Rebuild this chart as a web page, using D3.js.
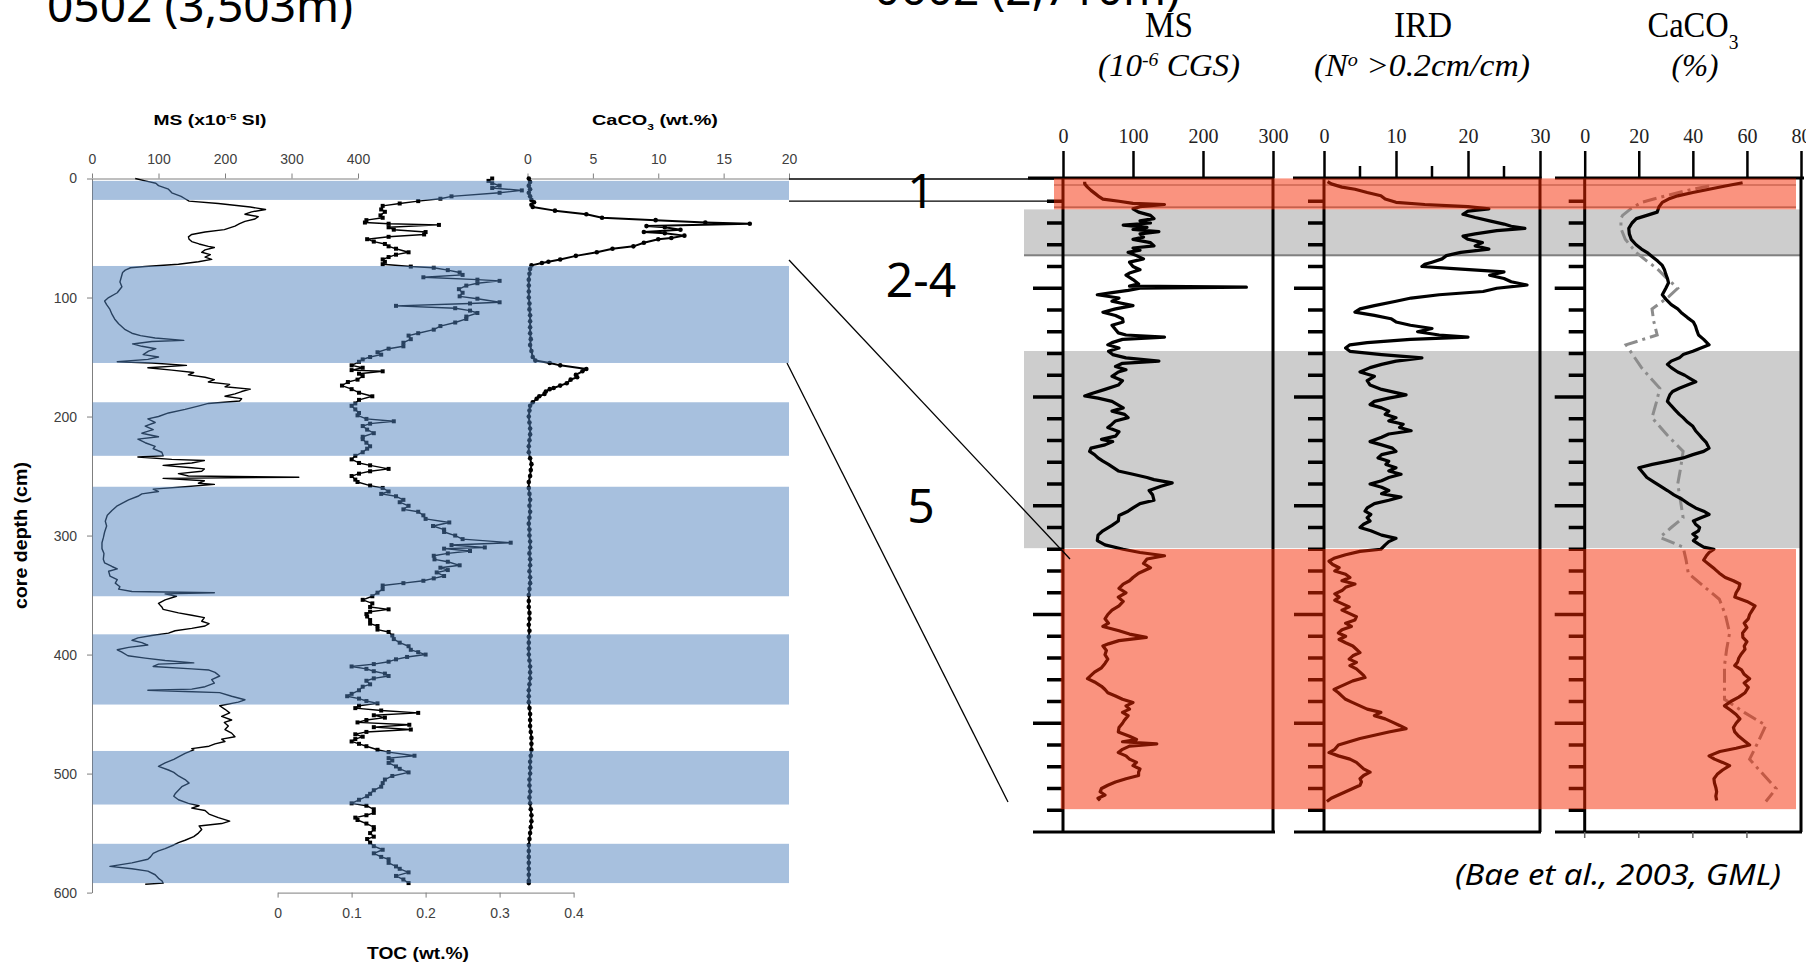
<!DOCTYPE html>
<html><head><meta charset="utf-8">
<script src="https://cdn.jsdelivr.net/npm/d3@7"></script>
<style>body{margin:0;background:#fff}svg{display:block}</style>
</head><body>
<script>
// ---------------- DATA: core 0502 (left) ----------------
const msTicks0502 = [0,100,200,300,400];
const caTicks0502 = [0,5,10,15,20];
const tocTicks0502 = [0,0.1,0.2,0.3,0.4];
const depthTicks0502 = [0,100,200,300,400,500,600];
// glacial (blue) intervals, cm
const blueBands0502 = [[2,18],[73.5,155],[188,233],[259,351],[383,442],[481,526],[559,592]];
// MS (x10^-5 SI): [depth cm, value]
const ms0502 = [[0,65],[2,80],[4,96],[6,100],[9,115],[12,120],[15,134],[17,140],[19,146],[21,190],[24,238],[26,261],[28,240],[30,230],[32,250],[34,245],[36,230],[38,222],[40,215],[43,199],[45,170],[47,150],[49,145],[51,146],[53,150],[55,161],[57,175],[58,184],[60,170],[62,165],[64,178],[66,170],[68,180],[70,160],[72,130],[74,80],[75,58],[77,50],[79,46],[83,44],[87,42],[91,45],[96,38],[100,25],[103,19],[106,22],[110,27],[114,30],[118,34],[122,40],[127,50],[130,60],[132,73],[134,95],[136,138],[137,90],[139,61],[141,75],[143,96],[145,85],[148,77],[150,100],[152,84],[154,38],[155,90],[157,142],[159,84],[161,120],[163,153],[165,145],[167,170],[169,184],[171,175],[173,207],[175,200],[177,238],[179,225],[181,215],[183,200],[185,225],[187,222],[189,175],[191,161],[194,140],[197,115],[200,100],[202,84],[205,95],[208,80],[211,92],[214,75],[217,100],[219,69],[222,80],[225,95],[227,92],[230,105],[233,107],[234,69],[236,120],[237,169],[239,150],[241,107],[243,150],[244,169],[246,165],[248,130],[250,145],[251,311],[252,107],[254,169],[256,160],[257,184],[259,140],[261,92],[263,100],[265,75],[267,69],[270,55],[273,45],[275,38],[279,30],[283,23],[288,20],[292,22],[297,19],[302,17],[306,15],[311,15],[315,18],[320,17],[323,19],[326,30],[328,38],[330,25],[334,27],[337,38],[340,35],[343,42],[345,40],[347,60],[348,184],[349,110],[351,127],[354,110],[357,100],[360,105],[362,107],[365,130],[367,150],[369,169],[372,165],[374,176],[376,170],[378,150],[380,125],[382,115],[384,90],[386,69],[388,60],[390,75],[392,84],[394,55],[396,38],[398,45],[401,54],[403,80],[405,110],[407,153],[408,100],[410,92],[412,150],[413,176],[415,185],[418,192],[421,180],[424,184],[427,170],[429,150],[430,84],[431,140],[432,192],[435,210],[438,230],[440,220],[443,192],[446,200],[449,207],[452,195],[455,210],[457,199],[460,205],[463,200],[466,210],[469,215],[471,195],[473,200],[475,185],[477,176],[479,150],[480,153],[483,140],[486,130],[488,123],[491,110],[494,100],[497,115],[499,123],[502,130],[505,140],[508,146],[511,135],[514,130],[517,125],[519,123],[522,130],[525,145],[527,161],[529,150],[531,170],[534,176],[537,190],[540,207],[542,195],[544,161],[547,165],[550,160],[553,153],[556,140],[558,130],[560,123],[563,110],[565,100],[567,92],[570,88],[572,84],[575,60],[578,27],[580,60],[582,84],[585,95],[588,100],[590,105],[592,107],[593,80]];
// TOC (wt.%)
const toc0502 = [[0,0.29],[2,0.285],[4,0.29],[6,0.30],[8,0.29],[10,0.33],[12,0.30],[15,0.235],[17,0.22],[19,0.19],[21,0.165],[23,0.142],[26,0.14],[28,0.145],[31,0.139],[33,0.142],[35,0.12],[37,0.118],[38,0.15],[39,0.218],[41,0.15],[43,0.157],[45,0.2],[47,0.198],[49,0.15],[51,0.121],[53,0.13],[55,0.145],[57,0.15],[59,0.16],[62,0.177],[64,0.16],[66,0.15],[68,0.142],[70,0.145],[72,0.142],[74,0.18],[75,0.211],[77,0.23],[79,0.246],[81,0.25],[83,0.197],[85,0.27],[86,0.30],[88,0.27],[90,0.255],[93,0.245],[96,0.25],[99,0.246],[101,0.27],[104,0.30],[105,0.26],[107,0.16],[109,0.24],[111,0.26],[113,0.27],[116,0.255],[118,0.255],[121,0.24],[124,0.22],[127,0.211],[130,0.19],[132,0.177],[135,0.18],[138,0.17],[141,0.17],[143,0.15],[146,0.135],[148,0.14],[150,0.125],[152,0.115],[154,0.11],[157,0.10],[159,0.115],[161,0.10],[162,0.142],[164,0.11],[166,0.115],[169,0.108],[171,0.095],[174,0.087],[177,0.10],[180,0.11],[183,0.128],[186,0.11],[189,0.105],[191,0.10],[194,0.105],[197,0.11],[199,0.108],[202,0.12],[204,0.157],[206,0.125],[208,0.115],[211,0.121],[214,0.13],[217,0.115],[219,0.115],[222,0.12],[225,0.125],[227,0.121],[230,0.115],[233,0.105],[236,0.10],[239,0.11],[241,0.125],[244,0.15],[246,0.125],[248,0.11],[250,0.10],[253,0.105],[255,0.108],[258,0.125],[260,0.142],[263,0.15],[265,0.14],[267,0.16],[270,0.17],[272,0.165],[275,0.177],[278,0.17],[280,0.19],[283,0.197],[286,0.2],[289,0.232],[292,0.21],[295,0.225],[297,0.225],[300,0.24],[303,0.25],[306,0.315],[308,0.235],[310,0.28],[311,0.225],[313,0.26],[315,0.23],[317,0.211],[320,0.212],[322,0.23],[325,0.246],[327,0.22],[329,0.23],[331,0.215],[334,0.225],[336,0.211],[338,0.197],[340,0.17],[342,0.142],[345,0.142],[348,0.135],[351,0.128],[354,0.115],[357,0.128],[360,0.125],[362,0.15],[364,0.125],[366,0.12],[368,0.121],[371,0.125],[374,0.125],[376,0.135],[379,0.135],[381,0.15],[384,0.155],[387,0.157],[390,0.165],[393,0.177],[396,0.18],[398,0.19],[400,0.20],[402,0.175],[404,0.16],[406,0.15],[408,0.13],[410,0.10],[412,0.12],[414,0.13],[416,0.145],[418,0.15],[420,0.13],[422,0.12],[425,0.125],[427,0.115],[430,0.11],[433,0.1],[435,0.094],[437,0.11],[439,0.12],[441,0.135],[443,0.11],[445,0.105],[447,0.14],[449,0.19],[451,0.13],[453,0.145],[455,0.12],[457,0.108],[459,0.178],[461,0.13],[463,0.18],[465,0.12],[467,0.105],[469,0.115],[471,0.105],[473,0.10],[475,0.11],[477,0.12],[480,0.135],[482,0.15],[485,0.185],[487,0.15],[489,0.155],[491,0.15],[494,0.16],[496,0.165],[499,0.177],[502,0.155],[505,0.145],[508,0.142],[511,0.14],[514,0.13],[517,0.125],[519,0.121],[522,0.11],[525,0.10],[527,0.12],[530,0.13],[533,0.13],[535,0.12],[537,0.105],[539,0.108],[542,0.12],[545,0.13],[547,0.13],[550,0.125],[553,0.13],[555,0.121],[558,0.125],[561,0.13],[564,0.142],[567,0.13],[570,0.14],[572,0.15],[575,0.15],[578,0.16],[580,0.165],[583,0.177],[586,0.16],[589,0.17],[592,0.177]];
// CaCO3 (wt.%)
const caco3_0502 = [[0,0.1],[3,0.2],[6,0.1],[9,0.2],[12,0.1],[15,0.2],[18,0.3],[20,0.5],[22,0.3],[24,0.4],[27,2.1],[30,4.5],[33,5.7],[35,9.8],[37,13.6],[38,17],[40,9.1],[41,10.5],[43,11.7],[45,8.9],[46,10.5],[48,12],[50,11],[51,10],[54,8.9],[57,8.1],[59,6.5],[62,5.3],[65,3.7],[68,2.5],[70,1.6],[71,1.1],[73,0.3],[76,0.2],[80,0.15],[85,0.1],[90,0.1],[95,0.1],[100,0.1],[105,0.15],[110,0.15],[115,0.2],[120,0.2],[125,0.2],[130,0.2],[135,0.25],[140,0.2],[145,0.3],[150,0.4],[153,0.6],[155,1.7],[157,2.5],[160,4.5],[162,4.2],[165,3.7],[167,3.8],[169,3.3],[172,3],[174,2.5],[176,2],[177,1.7],[179,1.4],[181,1.3],[183,0.9],[185,0.7],[188,0.4],[191,0.2],[195,0.15],[200,0.1],[205,0.15],[210,0.2],[215,0.2],[220,0.15],[225,0.1],[230,0.1],[235,0.2],[240,0.3],[245,0.25],[250,0.2],[255,0.1],[260,0.1],[265,0.15],[270,0.2],[275,0.15],[280,0.2],[285,0.15],[290,0.1],[295,0.15],[300,0.15],[305,0.2],[310,0.2],[315,0.15],[320,0.2],[325,0.2],[330,0.15],[335,0.2],[340,0.2],[345,0.15],[350,0.1],[355,0.1],[360,0.1],[365,0.15],[370,0.15],[375,0.1],[380,0.15],[385,0.1],[390,0.1],[395,0.1],[400,0.1],[405,0.15],[410,0.2],[415,0.2],[420,0.2],[425,0.15],[430,0.1],[435,0.1],[440,0.1],[445,0.15],[450,0.2],[455,0.2],[460,0.2],[465,0.25],[470,0.3],[475,0.3],[480,0.3],[485,0.25],[490,0.2],[495,0.2],[500,0.2],[505,0.15],[510,0.15],[515,0.2],[520,0.15],[525,0.2],[530,0.25],[535,0.3],[540,0.3],[545,0.25],[550,0.2],[555,0.15],[560,0.1],[565,0.1],[570,0.1],[575,0.1],[580,0.1],[585,0.1],[590,0.1],[592,0.1]];

// ---------------- DATA: core 0602 (right, Bae et al. 2003) ----------------
const msTicks0602 = [0,100,200,300];
const irdTicks0602 = [0,10,20,30];
const irdMinor0602 = [5,15,25];
const caTicks0602 = [0,20,40,60,80];
const grayBands0602 = [[27.5,70.5],[157.7,339]];
const redBands0602 = [[-1,27.5],[339.8,579]];
const ms0602 = [[2,31],[4,31],[7,35],[10,40],[13,46],[16,52],[18,57],[20,80],[22,100],[23,145],[25,110],[27,100],[30,108],[33,125],[36,130],[38,110],[40,125],[42,86],[44,120],[46,100],[48,137],[50,110],[53,115],[55,100],[58,125],[61,130],[63,100],[65,110],[67,93],[70,105],[73,115],[76,95],[80,100],[83,110],[86,95],[88,90],[92,100],[96,108],[98,95],[99,262],[100,110],[102,93],[104,70],[106,49],[109,80],[112,70],[116,100],[119,75],[122,57],[125,75],[128,85],[131,86],[134,70],[138,75],[141,79],[143,90],[145,145],[147,85],[150,70],[152,64],[155,80],[158,65],[161,71],[164,90],[167,137],[169,85],[172,75],[175,90],[177,79],[181,70],[185,85],[189,79],[193,60],[197,40],[199,31],[201,50],[204,70],[207,78],[210,86],[213,70],[216,88],[219,93],[222,75],[225,70],[228,64],[232,80],[236,75],[239,55],[241,71],[244,60],[247,40],[250,38],[253,45],[256,50],[259,57],[262,65],[265,72],[268,79],[271,100],[274,120],[276,130],[279,156],[282,140],[286,123],[290,128],[295,130],[298,110],[302,100],[305,93],[309,80],[314,79],[318,70],[323,57],[327,50],[332,49],[336,60],[340,86],[343,110],[346,145],[349,120],[353,115],[357,125],[362,108],[366,100],[369,95],[372,86],[376,80],[380,90],[384,79],[388,86],[392,80],[396,70],[400,64],[404,60],[408,65],[411,57],[415,80],[418,95],[421,119],[424,80],[427,65],[429,57],[433,62],[437,60],[441,64],[445,60],[449,55],[453,45],[456,40],[459,35],[462,45],[466,55],[469,60],[472,64],[475,75],[478,85],[481,100],[484,90],[487,95],[490,85],[493,93],[497,88],[500,85],[504,80],[508,79],[512,95],[515,105],[517,85],[519,134],[521,95],[524,85],[527,79],[530,90],[533,95],[536,105],[539,100],[542,110],[545,108],[548,108],[551,90],[554,75],[557,64],[560,55],[563,53],[566,60],[569,50],[571,53]];
const ird0602 = [[2,0.5],[4,1],[7,2.5],[9,4.3],[12,6],[15,7.9],[18,8.5],[21,10],[23,14],[25,20],[27,22.9],[29,20],[32,19.3],[35,21],[38,23],[41,25],[43,26],[45,27.9],[47,24],[50,21],[52,19.3],[55,20],[58,22],[61,21],[64,22.9],[67,19],[70,17],[73,16.4],[76,15],[78,14],[80,13.6],[82,18],[85,25],[88,23],[91,25],[94,26],[97,28.2],[100,24],[103,22.1],[106,16],[109,12.1],[112,10],[116,7],[119,5],[122,4.3],[125,7],[128,9.3],[131,10],[134,12],[137,15],[140,13],[143,16],[145,20],[147,12],[150,6],[152,3.6],[155,3],[158,3.6],[161,8],[164,13.6],[167,10],[170,8],[173,6.4],[177,5],[181,7],[185,6],[189,6.4],[193,8],[196,10],[198,11.4],[201,9],[204,7],[207,6.4],[210,8],[213,9],[216,8.5],[219,10],[222,9],[225,11],[228,10.5],[231,12.1],[234,9],[237,8],[241,6.4],[244,8],[247,9.5],[250,10],[253,8],[256,7.5],[259,9],[262,8.6],[265,10],[268,9],[271,10.7],[274,9],[277,8],[280,6.4],[283,8],[286,9],[289,8],[292,10.7],[295,9],[298,7],[302,6],[305,5.7],[308,6.5],[311,6],[314,6.4],[317,5.5],[320,5],[323,6.5],[327,8],[330,10],[333,9],[336,8.5],[340,7.9],[342,5],[345,3],[348,1.5],[351,0.7],[354,1.2],[357,2.1],[360,1.5],[363,3],[366,3.6],[369,2.5],[372,4.3],[375,3],[378,2.5],[381,1.5],[384,2.1],[387,1.5],[390,2.5],[393,3.5],[396,2.5],[399,3.5],[402,4.5],[405,4.3],[408,3],[411,3.8],[414,2.5],[417,2],[420,3],[423,2.1],[426,3],[429,4],[432,4.5],[435,5],[438,4],[441,3.5],[444,4.5],[447,3.6],[450,4.5],[453,5],[456,5.5],[458,5.7],[461,4],[464,3],[467,2],[469,1.4],[472,2],[475,2.5],[478,3],[481,4],[484,5],[487,6],[490,7.9],[493,7],[496,8.5],[499,9.5],[502,10.5],[505,11.4],[508,9],[511,7],[514,5],[517,3.5],[520,2],[524,1.5],[527,0.7],[530,2],[533,3.6],[536,4.5],[539,5],[542,5.5],[545,6.4],[548,5.5],[551,5],[554,5.2],[557,5],[560,4],[563,3],[566,2],[569,1],[572,0.4]];
const caco3_0602 = [[3,58.4],[6,52],[9,46],[12,40],[15,34.4],[18,31],[21,28.7],[25,27.5],[30,26.8],[33,23],[36,19.1],[40,17.5],[45,16.3],[50,16.5],[55,17.2],[60,19],[64,21],[67,23],[71,25],[75,27],[79,28.7],[83,29.5],[87,30],[91,30.6],[95,31],[100,30],[106,28.7],[110,30],[115,32],[119,34.4],[123,36],[127,38],[131,40.2],[135,41],[139,41.5],[143,42.1],[147,44],[152,46],[155,43],[158,40],[161,36.4],[164,35],[167,32],[170,30.6],[173,32],[177,34.4],[180,37],[183,39],[186,41.1],[189,38],[192,35],[195,32.5],[198,31.5],[201,31],[204,30.6],[208,32],[212,33.5],[216,35],[219,36.4],[223,38],[227,40],[231,41],[234,42.1],[238,43.5],[242,45],[247,46],[250,44],[253,40],[256,36.4],[259,31],[262,25],[265,20],[268,21],[271,22],[274,23],[278,25.5],[282,28],[286,30.6],[290,33],[294,36],[298,38.3],[302,41],[305,44],[308,46],[311,43],[314,40.2],[317,41],[320,42.5],[323,42.1],[326,40],[329,41.5],[332,40.2],[335,42],[338,44],[340,47.8],[343,46],[346,45],[350,44],[354,46],[358,48],[362,49.8],[366,52],[369,55],[372,57.4],[376,57],[380,56],[384,55.5],[388,60],[392,63],[396,62],[400,61],[404,60.5],[408,59],[412,60],[417,58.4],[421,58.5],[425,60],[429,59],[432,59.3],[436,58],[440,57],[444,56.5],[447,55.5],[451,58],[455,59],[459,61],[463,59],[467,60.5],[472,59.3],[476,57],[480,54],[484,51.7],[488,54],[492,56],[496,57.4],[500,56],[504,55],[508,55.5],[512,57],[516,59],[520,61],[523,56],[526,50],[530,46],[533,48],[536,51],[539,53.6],[543,51],[547,49],[551,47.8],[555,48],[559,48.5],[563,48.8],[567,48.5],[571,48.8]];
const caco3b_0602 = [[6,46],[10,38],[15,30],[21,21],[27,17],[33,14],[36,13.4],[45,13.4],[55,15],[67,19],[75,23],[82,26.8],[90,30],[100,34.4],[108,31],[119,24.9],[130,25.5],[143,26.8],[152,15.3],[162,18],[173,21],[183,24.5],[192,27.8],[205,26.5],[219,24.9],[235,30.5],[250,36.4],[265,35.5],[280,34.4],[295,35.4],[311,36.4],[320,32],[329,27.8],[338,36.4],[350,37.5],[362,38.3],[374,44],[386,49.8],[400,52],[417,53.6],[432,52.5],[447,51.7],[462,51.7],[478,51.7],[490,59],[502,67],[518,64],[533,61],[547,66],[560,70.8],[572,67]];
const intervalLabels = ["1","2-4","5"];

// ---------------- DRAW ----------------
const W = 1806, H = 966;
const svg = d3.select("body").append("svg").attr("width", W).attr("height", H);
svg.append("rect").attr("width", W).attr("height", H).attr("fill", "#fff");

// Left scales
const yL = d3.scaleLinear().domain([0,600]).range([178.5,892.6]);
const xMS = d3.scaleLinear().domain([0,400]).range([92,358]);
const xTOC = d3.scaleLinear().domain([0,0.4]).range([277.6,573.6]);
const xCa = d3.scaleLinear().domain([0,20]).range([527.5,789]);

const SANS = "'Liberation Sans', Arial, sans-serif";
const SERIF = "'Liberation Serif', 'Times New Roman', serif";
const NOTO = "'Noto Sans', 'Open Sans', sans-serif";

function styleAxis(g, col, size) {
  g.selectAll("path.domain").attr("stroke", col).attr("stroke-width", 1);
  g.selectAll(".tick line").attr("stroke", col).attr("stroke-width", 1);
  g.selectAll(".tick text").attr("fill", "#404040").attr("font-family", SANS).attr("font-size", size);
}
const plain = d => String(+d.toFixed(2));
const L = svg.append("g");
// axes
const gDepth = L.append("g").attr("transform", `translate(${xMS(0)},0)`)
  .call(d3.axisLeft(yL).tickValues(depthTicks0502).tickSize(5).tickSizeOuter(0).tickPadding(10).tickFormat(plain));
styleAxis(gDepth, "#7f7f7f", 14);
const gMS = L.append("g").attr("transform", `translate(0,${yL(0)})`)
  .call(d3.axisTop(xMS).tickValues(msTicks0502).tickSize(5).tickSizeOuter(0).tickPadding(10).tickFormat(plain));
styleAxis(gMS, "#7f7f7f", 14);
const gCa = L.append("g").attr("transform", `translate(0,${yL(0)})`)
  .call(d3.axisTop(xCa).tickValues(caTicks0502).tickSize(5).tickSizeOuter(0).tickPadding(10).tickFormat(plain));
styleAxis(gCa, "#7f7f7f", 14);
const gToc = L.append("g").attr("transform", `translate(0,${yL(600)})`)
  .call(d3.axisBottom(xTOC).tickValues(tocTicks0502).tickSize(5).tickSizeOuter(0).tickPadding(10).tickFormat(plain));
styleAxis(gToc, "#7f7f7f", 14);

// curves
const lineL = (xs) => d3.line().x(d => xs(d[1])).y(d => yL(d[0]));
L.append("path").datum(ms0502).attr("d", lineL(xMS)).attr("fill","none").attr("stroke","#000").attr("stroke-width",1.4).attr("stroke-linejoin","round");
L.append("path").datum(toc0502).attr("d", lineL(xTOC)).attr("fill","none").attr("stroke","#000").attr("stroke-width",1.4).attr("stroke-linejoin","round");
L.append("g").selectAll("rect").data(toc0502).join("rect")
  .attr("x", d => xTOC(d[1]) - 2).attr("y", d => yL(d[0]) - 2).attr("width", 4).attr("height", 4).attr("fill", "#000");
L.append("path").datum(caco3_0502).attr("d", lineL(xCa)).attr("fill","none").attr("stroke","#000").attr("stroke-width",2).attr("stroke-linejoin","round");
L.append("g").selectAll("circle").data(caco3_0502).join("circle")
  .attr("cx", d => xCa(d[1])).attr("cy", d => yL(d[0])).attr("r", 2.3).attr("fill", "#000");

// translucent blue bands (over the curves)
L.append("g").selectAll("rect").data(blueBands0502).join("rect")
  .attr("x", xMS(0) + 0.5).attr("width", xCa(20) - xMS(0) - 0.5)
  .attr("y", d => yL(d[0])).attr("height", d => yL(d[1]) - yL(d[0]))
  .attr("fill", "#4F81BD").attr("fill-opacity", 0.5);

// titles helper
function title(g, x, y, parts, size, len, opts = {}) {
  const t = g.append("text").attr("x", x).attr("y", y).attr("text-anchor", opts.anchor || "middle")
    .attr("font-family", opts.family || SANS).attr("font-size", size)
    .attr("font-weight", opts.weight || "normal").attr("font-style", opts.style || "normal").attr("fill", "#000");
  if (len) t.attr("textLength", len).attr("lengthAdjust", "spacingAndGlyphs");
  parts.forEach(p => {
    const s = t.append("tspan").text(p.t);
    if (p.sup) s.attr("baseline-shift", "super").attr("font-size", size * 0.6);
    if (p.sub) s.attr("baseline-shift", "sub").attr("font-size", size * 0.6);
  });
  return t;
}
title(L, 210, 125, [{t:"MS (x10"},{t:"-5",sup:1},{t:" SI)"}], 15, 113, {weight:"bold"});
title(L, 655, 125, [{t:"CaCO"},{t:"3",sub:1},{t:" (wt.%)"}], 15, 126, {weight:"bold"});
title(L, 418, 959, [{t:"TOC (wt.%)"}], 16, 102, {weight:"bold"});
L.append("text").attr("transform", `translate(27,${yL(300)}) rotate(-90)`).attr("text-anchor","middle")
  .attr("font-family", SANS).attr("font-weight","bold").attr("font-size", 18)
  .attr("textLength", 147).attr("lengthAdjust","spacingAndGlyphs").text("core depth (cm)");

// big core titles
svg.append("text").attr("x", 47).attr("y", 22).attr("font-family", NOTO).attr("font-size", 46)
  .attr("textLength", 306).attr("lengthAdjust","spacingAndGlyphs").text("0502 (3,503m)");
svg.append("text").attr("x", 874).attr("y", 5).attr("font-family", NOTO).attr("font-size", 46)
  .attr("textLength", 306).attr("lengthAdjust","spacingAndGlyphs").text("0602 (2,710m)");

// ---------------- RIGHT ----------------
const yR = d3.scaleLinear().domain([0,600]).range([179.5,832]);
const xMSr = d3.scaleLinear().domain([0,300]).range([1063,1273]);
const xIRD = d3.scaleLinear().domain([0,30]).range([1324,1540]);
const xCaR = d3.scaleLinear().domain([0,80]).range([1584.7,1801]);
const R = svg.append("g");
const rightLeft = 1024, rightRight = 1802;

// gray bands (behind)
R.append("g").selectAll("rect").data(grayBands0602).join("rect")
  .attr("x", rightLeft).attr("width", rightRight - rightLeft)
  .attr("y", d => yR(d[0])).attr("height", d => yR(d[1]) - yR(d[0])).attr("fill", "#cdcdcd");
R.append("line").attr("x1", rightLeft).attr("x2", rightRight)
  .attr("y1", yR(grayBands0602[0][1]) - 1).attr("y2", yR(grayBands0602[0][1]) - 1)
  .attr("stroke", "#808080").attr("stroke-width", 2);
// continuation of interval-1 markers across panel
[yL(0) + 0.5, yL(19)].forEach(y => {
  R.append("line").attr("x1", 1054).attr("x2", 1796).attr("y1", y + 6).attr("y2", y + 6)
    .attr("stroke", "#777").attr("stroke-width", 1.2);
});

const panels = [
  {x: xMSr, ticks: msTicks0602, minor: [], top: [1028,1274], bot: [1033,1275]},
  {x: xIRD, ticks: irdTicks0602, minor: irdMinor0602, top: [1293,1541.5], bot: [1294,1541]},
  {x: xCaR, ticks: caTicks0602, minor: [], top: [1555,1804], bot: [1555,1802]}
];
const depthTickVals = d3.range(20, 600, 20);
panels.forEach(p => {
  const g = R.append("g");
  const x0 = p.x.range()[0], x1 = p.x.range()[1];
  g.append("line").attr("x1", p.top[0]).attr("x2", p.top[1]).attr("y1", 178).attr("y2", 178).attr("stroke","#000").attr("stroke-width",3);
  g.append("line").attr("x1", p.bot[0]).attr("x2", p.bot[1]).attr("y1", yR(600)).attr("y2", yR(600)).attr("stroke","#000").attr("stroke-width",3);
  g.append("line").attr("x1", x0).attr("x2", x0).attr("y1", 178).attr("y2", yR(600)).attr("stroke","#000").attr("stroke-width",3);
  g.append("line").attr("x1", x1).attr("x2", x1).attr("y1", 178).attr("y2", yR(600)).attr("stroke","#000").attr("stroke-width",3);
  const ax = g.append("g").attr("transform", "translate(0,178)")
    .call(d3.axisTop(p.x).tickValues(p.ticks).tickSize(27).tickSizeOuter(0).tickPadding(8).tickFormat(plain));
  ax.select("path.domain").remove();
  ax.selectAll(".tick line").attr("stroke","#000").attr("stroke-width",2.5);
  ax.selectAll(".tick text").attr("fill","#222").attr("font-family", SERIF).attr("font-size", 20);
  g.selectAll("line.minor").data(p.minor).join("line").attr("class","minor")
    .attr("x1", d => p.x(d)).attr("x2", d => p.x(d)).attr("y1", 166).attr("y2", 178)
    .attr("stroke","#000").attr("stroke-width",2.5);
  g.selectAll("line.dt").data(depthTickVals).join("line").attr("class","dt")
    .attr("x1", d => x0 - (d % 100 === 0 ? 30 : 16)).attr("x2", x0)
    .attr("y1", d => yR(d)).attr("y2", d => yR(d)).attr("stroke","#000").attr("stroke-width",3.5);
});
R.selectAll("line.cb").data(caTicks0602.slice(0,4)).join("line").attr("class","cb")
  .attr("x1", d => xCaR(d)).attr("x2", d => xCaR(d)).attr("y1", yR(600)).attr("y2", yR(600) + 6)
  .attr("stroke","#666").attr("stroke-width",1.5);

// curves right
const lineR = (xs) => d3.line().x(d => xs(d[1])).y(d => yR(d[0]));
R.append("path").datum(caco3b_0602).attr("d", lineR(xCaR)).attr("fill","none").attr("stroke","#8c8c8c")
  .attr("stroke-width",3).attr("stroke-dasharray","14,5,3,5");
[[ms0602, xMSr],[ird0602, xIRD],[caco3_0602, xCaR]].forEach(([data, xs]) => {
  R.append("path").datum(data).attr("d", lineR(xs)).attr("fill","none").attr("stroke","#000")
    .attr("stroke-width",3.2).attr("stroke-linejoin","round");
});
// translucent red bands on top
const redX = [1054, 1060.7];
R.append("g").selectAll("rect").data(redBands0602).join("rect")
  .attr("x", (d,i) => redX[i]).attr("width", (d,i) => 1796 - redX[i])
  .attr("y", d => yR(d[0])).attr("height", d => yR(d[1]) - yR(d[0]))
  .attr("fill", "rgb(245,40,0)").attr("fill-opacity", 0.5);

// right titles
title(R, 1169, 36.5, [{t:"MS"}], 36, 48, {family: SERIF});
title(R, 1169, 76, [{t:"(10"},{t:"-6",sup:1},{t:" CGS)"}], 32, 142, {family: SERIF, style:"italic"});
title(R, 1423, 36.5, [{t:"IRD"}], 36, 58, {family: SERIF});
title(R, 1422, 76, [{t:"(N"},{t:"o",sup:1},{t:" >0.2cm/cm)"}], 32, 216, {family: SERIF, style:"italic"});
title(R, 1693, 36.5, [{t:"CaCO"},{t:"3",sub:1}], 36, 91, {family: SERIF});
title(R, 1695, 76, [{t:"(%)"}], 32, 47, {family: SERIF, style:"italic"});

// connector lines between the two cores
const C = svg.append("g").attr("stroke", "#000").attr("stroke-width", 1.3);
C.append("line").attr("x1", xCa(20)).attr("x2", 1054).attr("y1", yL(0) + 0.5).attr("y2", yL(0) + 0.5);
C.append("line").attr("x1", xCa(20)).attr("x2", 1054).attr("y1", yL(19)).attr("y2", yL(19));
C.append("line").attr("x1", xCa(20)).attr("y1", yL(blueBands0502[1][0]) - 6).attr("x2", 1070).attr("y2", 559);
C.append("line").attr("x1", xCa(20) - 2).attr("y1", yL(blueBands0502[1][1])).attr("x2", 1008).attr("y2", 802);

// interval labels
const labY = [208, 297, 523];
intervalLabels.forEach((s,i) => {
  svg.append("text").attr("x", 921).attr("y", labY[i]).attr("text-anchor","middle")
    .attr("font-family", NOTO).attr("font-size", 48).attr("fill","#000").text(s);
});

// citation
svg.append("text").attr("x", 1781).attr("y", 885).attr("text-anchor","end")
  .attr("font-family", NOTO).attr("font-style","italic").attr("font-size", 29)
  .attr("textLength", 326).attr("lengthAdjust","spacingAndGlyphs").text("(Bae et al., 2003, GML)");
</script>
</body></html>
